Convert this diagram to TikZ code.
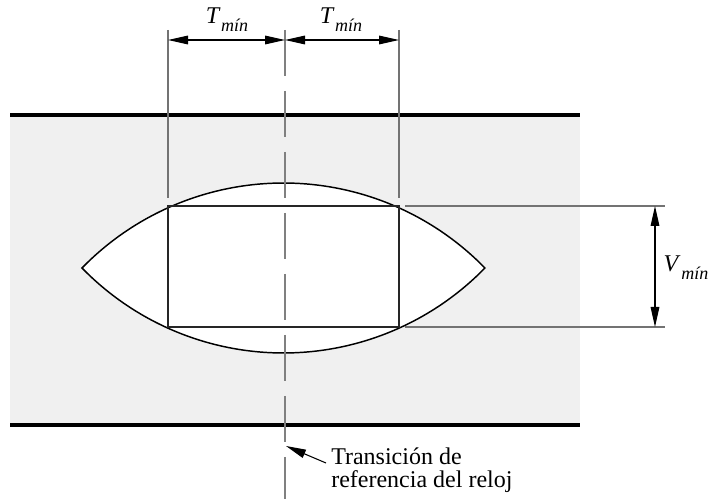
\documentclass[tikz,border=0pt]{standalone}
\usepackage{fontspec}
\setmainfont{Liberation Serif}
\usetikzlibrary{arrows.meta}
\tikzset{
  band/.style={line width=2.6pt, black},
  eye/.style={fill=white, draw=black, line width=1.1pt},
  rectline/.style={draw=black!85, line width=0.8pt},
  centerline/.style={draw=black!50, line width=1pt, dash pattern=on 34.5pt off 11.25pt},
  extline/.style={draw=black!55, line width=0.8pt},
  dimarrow/.style={line width=0.8pt, black, {Triangle[length=15pt,width=6.5pt]}-{Triangle[length=15pt,width=6.5pt]}},
  leader/.style={line width=0.8pt, black, -{Triangle[length=15pt,width=6.5pt]}},
  lab/.style={inner sep=0pt, font=\fontsize{18}{20}\selectfont},
}
\newcommand{\subl}[1]{\textit{#1}\kern0.5pt\raisebox{-5.5pt}{\fontsize{13.5}{14}\selectfont\itshape mín}}
\begin{document}
\begin{tikzpicture}[x=0.75pt,y=-0.75pt]
\useasboundingbox (0,0) rectangle (708,499);
% band
\fill[black!6] (10,115) rectangle (580,425);
\draw[band] (10,115) -- (580,115);
\draw[band] (10,425) -- (580,425);
% eye
\filldraw[eye] (82,268) arc[start angle=135.74, end angle=44.26, radius=210.98pt]
  arc[start angle=-44.26, end angle=-135.74, radius=210.98pt] -- cycle;
% rectangle
\draw[rectline] (168,206) rectangle (399,327);
% center line
\coordinate (ctop) at (285,30);
\coordinate (cbot) at (285,499);
\draw[centerline] (ctop) -- (cbot);
% extension lines
\coordinate (e1a) at (168,30); \coordinate (e1b) at (168,198);
\coordinate (e2a) at (399,30); \coordinate (e2b) at (399,198);
\draw[extline] (e1a) -- (e1b);
\draw[extline] (e2a) -- (e2b);
\coordinate (h1a) at (405,206); \coordinate (h1b) at (665,206);
\coordinate (h2a) at (405,327); \coordinate (h2b) at (665,327);
\draw[extline] (h1a) -- (h1b);
\draw[extline] (h2a) -- (h2b);
% dimension arrows
\coordinate (d1) at (168,40); \coordinate (d2) at (285,40); \coordinate (d3) at (399,40);
\draw[dimarrow] (d1) -- (d2);
\draw[dimarrow] (d2) -- (d3);
\coordinate (v1) at (655,206); \coordinate (v2) at (655,327);
\draw[dimarrow] (v1) -- (v2);
% labels
\node[lab, anchor=base] (t1) at (227,24) {\subl{T}};
\node[lab, anchor=base] (t2) at (341,24) {\subl{T}};
\node[lab, anchor=base] (vl) at (686,272) {\subl{V}};
% leader
\node[lab, anchor=north west, align=left] (txt) at (331,448) {Transición de\\[-3pt]referencia del reloj};
\coordinate (ls) at (326,463);
\coordinate (lt) at (286,446);
\draw[leader] (ls) -- (lt);
\end{tikzpicture}
\end{document}
